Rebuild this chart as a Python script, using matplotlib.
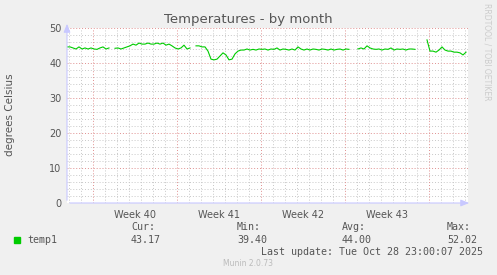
import numpy as np
import matplotlib
matplotlib.use("Agg")
import matplotlib.pyplot as plt
from matplotlib.ticker import MultipleLocator, FixedLocator

# samples every 6 hours, first one 52 h before Mon Sep 29 00:00 (start of week 40)
start_hour = -52
step_hours = 6
nan = np.nan
temp1 = [
    44.6, 44.6, 44.3, 44.0, 44.6, 44.0, 44.3, 44.0, 44.3, 44.0,
    43.9, 44.3, 44.6, 44.0, 44.3, nan, 44.2, 44.3, 44.0, 44.3,
    44.6, 44.9, 45.4, 45.1, 45.7, 45.4, 45.4, 45.7, 45.4, 45.4,
    45.7, 45.4, 45.7, 45.1, 45.4, 44.9, 44.3, 44.0, 44.3, 45.1,
    44.0, 44.3, nan, 44.9, 44.9, 44.6, 44.6, 43.4, 41.1, 40.9,
    41.1, 42.0, 42.9, 42.3, 40.9, 41.1, 42.6, 43.4, 43.7, 43.7,
    44.0, 43.7, 43.9, 43.7, 44.0, 43.9, 44.0, 43.7, 44.0, 43.9,
    44.3, 43.7, 44.0, 43.9, 43.7, 44.0, 43.7, 44.6, 44.0, 43.7,
    44.0, 43.7, 44.0, 43.9, 43.7, 44.0, 43.9, 43.7, 44.0, 43.7,
    43.9, 44.0, 43.7, 44.0, 43.9, nan, nan, 44.0, 44.3, 44.0,
    44.9, 44.3, 44.0, 43.9, 44.0, 43.7, 44.0, 43.9, 44.3, 43.7,
    44.0, 43.9, 44.0, 43.7, 44.0, 44.0, 43.9, nan, nan, nan,
    46.6, 43.4, 43.4, 43.1, 43.7, 44.6, 43.7, 43.4, 43.4, 43.1,
    43.1, 42.9, 42.3, 43.1,
]
week_labels = ["Week 40", "Week 41", "Week 42", "Week 43"]
legend_stats = {"Cur:": "43.17", "Min:": "39.40", "Avg:": "44.00", "Max:": "52.02"}
last_update = "Last update: Tue Oct 28 23:00:07 2025"

hours = start_hour + step_hours * np.arange(len(temp1))

W, H = 497, 275
fig = plt.figure(figsize=(W / 100, H / 100), dpi=100, facecolor="#f0f0f0")
ax = fig.add_axes([67 / W, 1 - 203 / H, (468 - 67) / W, (203 - 28) / H])
ax.set_facecolor("white")

ax.set_xlim(-52, 750)
ax.set_ylim(0, 50)

# grid: minor gray, major red-ish, all dotted
minor_c, major_c = "#c8c8c8", "#e09090"
for y in np.arange(0, 51, 2):
    if y % 10:
        ax.axhline(y, color=minor_c, lw=0.7, ls=(0, (1, 2)), zorder=1)
for y in range(10, 51, 10):
    ax.axhline(y, color=major_c, lw=0.7, ls=(0, (1, 2)), zorder=1)
for x in range(-48, 750, 24):
    if x % 168:
        ax.axvline(x, color=minor_c, lw=0.7, ls=(0, (1, 2)), zorder=1)
for x in range(0, 750, 168):
    ax.axvline(x, color=major_c, lw=0.7, ls=(0, (1, 2)), zorder=1)

ax.plot(hours, temp1, color="#00cc00", lw=0.8, zorder=3)

for s in ax.spines.values():
    s.set_visible(False)
ax.annotate("", xy=(0, 1.04), xytext=(0, 0), xycoords="axes fraction",
            arrowprops=dict(arrowstyle="-|>,head_width=0.2,head_length=0.5",
                            color="#c8c8ff", lw=0.8), annotation_clip=False)
ax.annotate("", xy=(1.01, 0), xytext=(0, 0), xycoords="axes fraction",
            arrowprops=dict(arrowstyle="-|>,head_width=0.2,head_length=0.5",
                            color="#c8c8ff", lw=0.8), annotation_clip=False)

ax.yaxis.set_major_locator(MultipleLocator(10))
ax.xaxis.set_major_locator(FixedLocator([84 + 168 * i for i in range(len(week_labels))]))
ax.set_xticklabels(week_labels)
ax.tick_params(axis="both", length=0, labelsize=7, colors="#555555", pad=4)
ax.tick_params(axis="x", pad=5)

fig.text(10 / W, 1 - 115 / H, "degrees Celsius", ha="center", va="center",
         rotation=90, fontsize=7.5, color="#555555")
fig.text(248 / W, 1 - 19 / H, "Temperatures - by month", ha="center", va="center",
         fontsize=9.5, color="#555555")
fig.text(487 / W, 1 - 52 / H, "RRDTOOL / TOBI OETIKER", ha="center", va="center",
         rotation=270, fontsize=5.5, color="#cccccc")

mono = dict(family="DejaVu Sans Mono", fontsize=7.2, color="#555555", va="center")
fig.patches.append(plt.Rectangle((14 / W, 1 - 243 / H), 6 / W, 6 / H,
                                 transform=fig.transFigure, color="#00cc00"))
fig.text(27 / W, 1 - 240 / H, "temp1", **mono)
for x0, (name, val) in zip([131, 237, 342, 447], legend_stats.items()):
    fig.text(x0 / W, 1 - 227 / H, name, **mono)
    fig.text(x0 / W, 1 - 240 / H, val, **mono)
fig.text(483 / W, 1 - 252 / H, last_update, ha="right", **mono)
fig.text(248 / W, 1 - 264 / H, "Munin 2.0.73", ha="center", va="center",
         fontsize=5.5, color="#bbbbbb")

fig.savefig("out.png", dpi=100, facecolor=fig.get_facecolor())
